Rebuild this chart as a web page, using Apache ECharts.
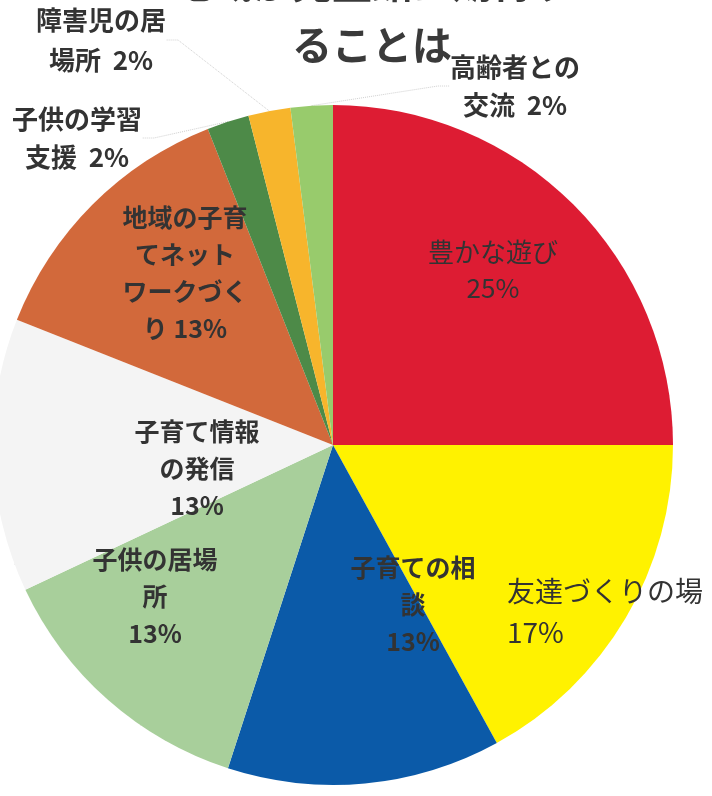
<!DOCTYPE html>
<html>
<head>
<meta charset="utf-8">
<script src="https://cdn.jsdelivr.net/npm/echarts@6/dist/echarts.min.js"></script>
<style>
  html, body { margin: 0; padding: 0; background: #ffffff; }
  #chart { width: 712px; height: 796px; }
</style>
</head>
<body>
<div id="chart"></div>
<script>
// 項目と割合
const categories = [
  "豊かな遊び",
  "友達づくりの場",
  "子育ての相談",
  "子供の居場所",
  "子育て情報の発信",
  "地域の子育てネットワークづくり",
  "子供の学習支援",
  "障害児の居場所",
  "高齢者との交流",
];
const percents = [25, 17, 13, 13, 13, 13, 2, 2, 2];
// ラベルの改行位置（{p} に割合が入る）
const labelTexts = [
  "豊かな遊び\n{p}%",
  "友達づくりの場\n{p}%",
  "子育ての相\n談\n{p}%",
  "子供の居場\n所\n{p}%",
  "子育て情報\nの発信\n{p}%",
  "地域の子育\nてネット\nワークづく\nり {p}%",
  "子供の学習\n支援  {p}%",
  "障害児の居\n場所  {p}%",
  "高齢者との\n交流  {p}%",
];
const sliceColors = [
  "#dd1c33",
  "#fff200",
  "#0b5aa8",
  "#a8cf9b",
  "#f4f4f4",
  "#d2693b",
  "#4d8a48",
  "#f7b52c",
  "#98cb6c",
];

const chart = echarts.init(document.getElementById("chart"));

// ラベル位置（画面座標）
const labelPlaces = [
  { x: 493, y: 270, align: "center" },
  { x: 507, y: 612, align: "left" },
  { x: 413, y: 604, align: "center" },
  { x: 155, y: 596, align: "center" },
  { x: 197, y: 468, align: "center" },
  { x: 185, y: 273, align: "center" },
  { x: 77, y: 138, align: "center" },
  { x: 101, y: 40, align: "center" },
  { x: 515, y: 86, align: "center" },
];

const boldLabel = {
  fontFamily: "Noto Sans CJK JP",
  fontWeight: "bold",
  fontSize: 25,
  lineHeight: 37,
  color: "#333333",
  overflow: "none",
};

const pieData = categories.map(function (name, i) {
  const item = {
    name: name,
    value: percents[i],
    itemStyle: { color: sliceColors[i] },
    label: Object.assign({}, boldLabel, {
      formatter: labelTexts[i].replace("{p}", percents[i]),
      position: i >= 6 ? "outside" : "inside",
    }),
  };
  if (i == 0) {
    item.label.fontWeight = "normal";
    item.label.fontSize = 26;
    item.label.lineHeight = 36;
  }
  if (i == 1) {
    item.label.fontWeight = "normal";
    item.label.fontSize = 28;
    item.label.lineHeight = 41;
  }
  if (i >= 6) {
    item.label.fontSize = 26;
    item.label.lineHeight = 38;
  }
  if (i == 7) {
    item.label.lineHeight = 40;
  }
  return item;
});

const option = {
  backgroundColor: "#ffffff",
  animation: false,
  graphic: [
    {
      type: "text",
      x: 372,
      y: 14,
      style: {
        text: "地域が児童館に期待す\nることは",
        fontFamily: "Noto Sans CJK JP",
        fontWeight: "bold",
        fontSize: 40,
        lineHeight: 62,
        fill: "#3a3a3a",
        align: "center",
        verticalAlign: "middle",
      },
    },
  ],
  series: [
    {
      type: "pie",
      center: [333, 445],
      radius: 340,
      startAngle: 90,
      clockwise: true,
      data: pieData,
      avoidLabelOverlap: false,
      label: { overflow: "none" },
      labelLine: {
        show: true,
        length: 12,
        length2: 12,
        lineStyle: { color: "#d0d0d0", width: 1, type: "dotted" },
      },
      labelLayout: function (params) {
        const p = labelPlaces[params.dataIndex];
        return {
          x: p.x,
          y: p.y,
          align: p.align,
          verticalAlign: "middle",
          hideOverlap: false,
        };
      },
      emphasis: { disabled: true },
    },
  ],
};

chart.setOption(option);
window.addEventListener("resize", function () {
  chart.resize();
});
</script>
</body>
</html>
